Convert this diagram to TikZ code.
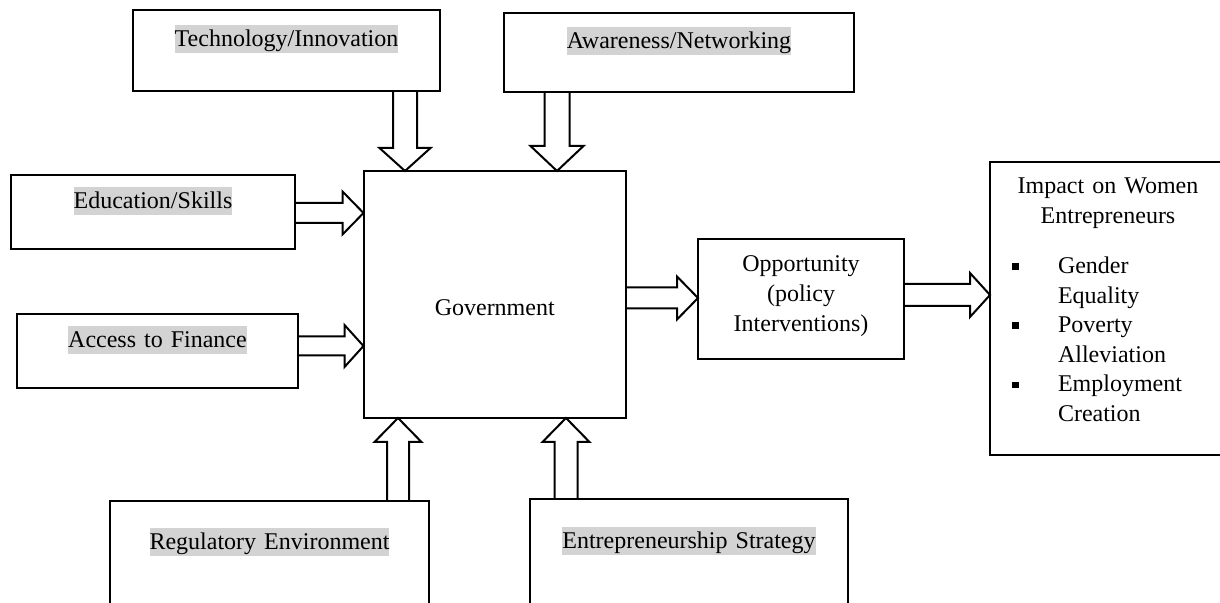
\documentclass[tikz,border=0pt]{standalone}
\usepackage{fontspec}
\setmainfont{Liberation Serif}
\usetikzlibrary{calc}
\definecolor{hlgray}{RGB}{211,211,211}
\newcommand\hlbox[1]{{\setlength{\fboxsep}{0pt}\colorbox{hlgray}{\rule[-3pt]{0pt}{13.9pt}#1}}}
\newcommand\bulitem{\makebox[34pt][l]{\hspace{11pt}\rule[1.85pt]{3.3pt}{3.3pt}}}
\newcommand\lindent{\hspace*{34pt}}
\newcommand\blockarrow[5]{%
  \draw[barrow] let \p1=(#1), \p2=(#2),
     \n1={atan2(\y2-\y1,\x2-\x1)}, \n2={veclen(\x2-\x1,\y2-\y1)} in
     {[shift={(\p1)}, rotate=\n1]
      (0pt,{#3*0.25pt}) -- ({\n2*1pt-#5*0.5pt},{#3*0.25pt})
      -- ({\n2*1pt-#5*0.5pt},{#4*0.25pt}) -- ({\n2*1pt},0pt)
      -- ({\n2*1pt-#5*0.5pt},{-#4*0.25pt}) -- ({\n2*1pt-#5*0.5pt},{-#3*0.25pt})
      -- (0pt,{-#3*0.25pt})};%
}
\tikzset{
  box/.style={draw, line width=1pt, inner sep=0pt, outer sep=0pt, align=center,
              font=\fontsize{12pt}{14.8pt}\selectfont},
  barrow/.style={draw, line width=1pt, line join=miter},
}
\begin{document}
\begin{tikzpicture}[x=0.5pt,y=-0.5pt]
\useasboundingbox (0,0) rectangle (1220,603);
\clip (0,0) rectangle (1220,603);

% boxes
\node[box, text width=153.5pt, text height=18.4pt, text depth=22.1pt] (tech) at (286.5,50.5) {\hlbox{Technology/Innovation}};
\node[box, text width=175pt, text height=17.9pt, text depth=21.6pt] (aware) at (679,52.5) {\hlbox{Awareness/Networking}};
\node[box, text width=142pt, text height=16.9pt, text depth=20.1pt] (edu) at (153,212) {\hlbox{Education/Skills}};
\node[box, text width=140.5pt, text height=16.9pt, text depth=20.1pt] (fin) at (157.5,351) {\hlbox{Access to Finance}};
\node[box, text width=131.25pt, text height=72.5pt, text depth=51pt] (gov) at (494.75,294.5) {Government};
\node[box, text width=103pt, text height=16.5pt, text depth=43.5pt] (opp) at (801,299) {Opportunity\\(policy\\Interventions)};
\node[box, align=left, text width=118pt, text height=16pt, text depth=130.5pt] (imp) at (1108,308.5)
  {\makebox[118pt]{Impact on Women}\\
   \makebox[118pt]{Entrepreneurs}\\[10.2pt]
   \bulitem Gender\\
   \lindent Equality\\
   \bulitem Poverty\\
   \lindent Alleviation\\
   \bulitem Employment\\
   \lindent Creation};
\node[box, text width=159.5pt, text height=24.4pt, text depth=45.1pt] (reg) at (269.5,570.5) {\hlbox{Regulatory Environment}};
\node[box, text width=159pt, text height=24.9pt, text depth=45.6pt] (entre) at (689,569.5) {\hlbox{Entrepreneurship Strategy}};

% arrow attach points
\coordinate (a1) at ($(tech.south)+(118.5,0)$);
\coordinate (a2) at ($(aware.south)+(-122,0)$);
\coordinate (a3) at ($(edu.east)+(0,1)$);
\coordinate (a4) at ($(fin.east)+(0,-5)$);
\coordinate (a5) at ($(reg.north)+(128.5,0)$);
\coordinate (a6) at ($(entre.north)+(-123,0)$);
\coordinate (a7) at ($(gov.east)+(0,3.5)$);
\coordinate (a8) at ($(opp.east)+(0,-4)$);

% block arrows
\blockarrow{a1}{a1 |- gov.north}{24}{51}{23}
\blockarrow{a2}{a2 |- gov.north}{25}{53}{25}
\blockarrow{a3}{a3 -| gov.west}{20}{43}{21}
\blockarrow{a4}{a4 -| gov.west}{19}{42}{19}
\blockarrow{a5}{a5 |- gov.south}{22}{47}{24}
\blockarrow{a6}{a6 |- gov.south}{23}{47}{24}
\blockarrow{a7}{a7 -| opp.west}{21}{43}{21}
\blockarrow{a8}{a8 -| imp.west}{22}{44}{20}
\end{tikzpicture}
\end{document}
